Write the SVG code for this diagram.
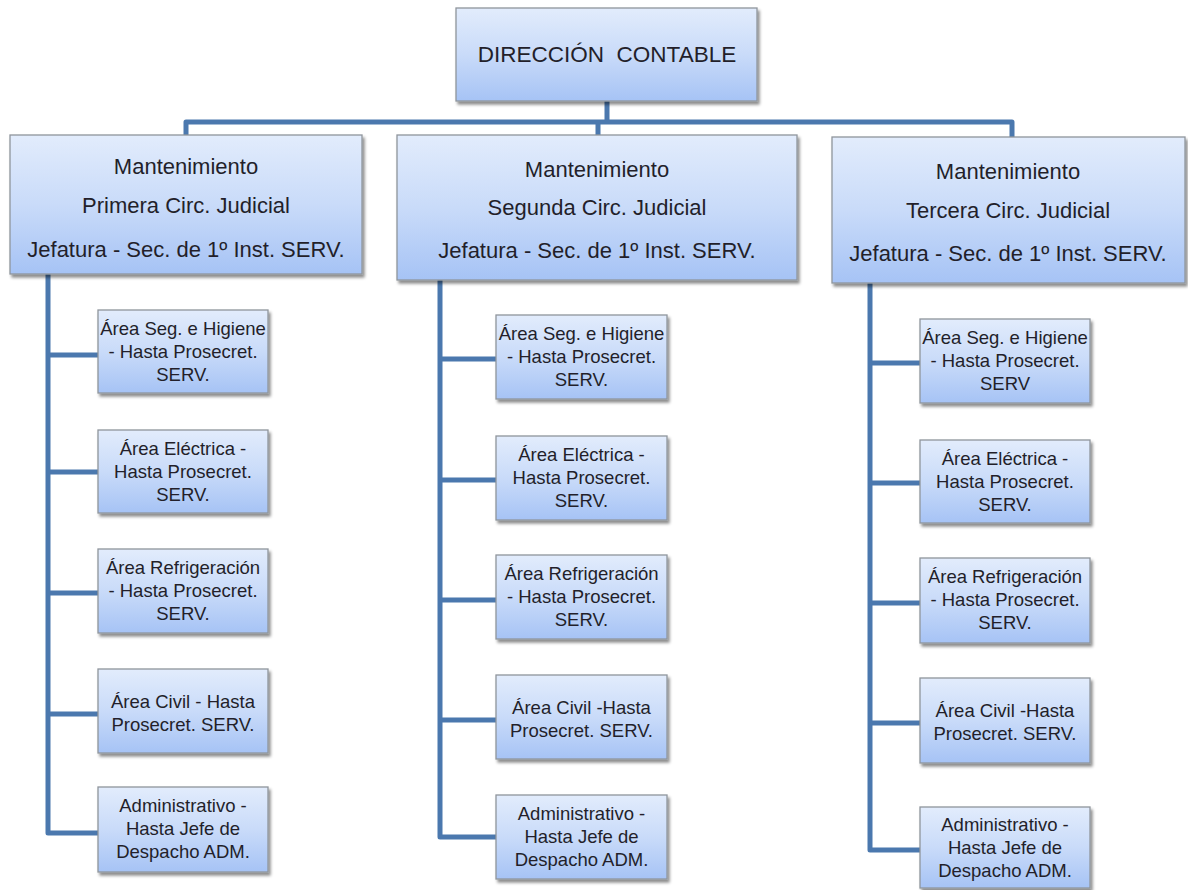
<svg xmlns="http://www.w3.org/2000/svg" width="1188" height="890" viewBox="0 0 1188 890">
<defs>
<linearGradient id="g" x1="0" y1="0" x2="0" y2="1">
<stop offset="0" stop-color="#e2ecfc"/>
<stop offset="0.5" stop-color="#c9dbf9"/>
<stop offset="1" stop-color="#a6c3f5"/>
</linearGradient>
<filter id="sh" x="-10%" y="-10%" width="125%" height="130%">
<feDropShadow dx="2" dy="3" stdDeviation="1.6" flood-color="#000" flood-opacity="0.45"/>
</filter>
<style>
.box{fill:url(#g);stroke:#8f959c;stroke-width:1.3;filter:url(#sh)}
.t{font-family:"Liberation Sans",Arial,sans-serif;fill:#231f2a;text-anchor:middle}
.top{font-size:22.5px}
.p{font-size:22px}
.c{font-size:18.5px}
.ln{fill:none;stroke:#4b78ae;stroke-width:5;stroke-linejoin:round;stroke-linecap:butt}
</style>
</defs>
<rect width="1188" height="890" fill="#fff"/>

<g id="connectors">
<path class="ln" d="M607 101 V122 M186 135 V122 H1012 V137 M598 122 V136"/>
<path class="ln" d="M48 274 V833 H98 M48 355 H98 M48 472 H98 M48 593 H98 M48 714 H98"/>
<path class="ln" d="M440 280 V837 H496 M440 359 H496 M440 480 H496 M440 600 H496 M440 720 H496"/>
<path class="ln" d="M870 283 V850 H920 M870 363 H920 M870 483 H920 M870 603 H920 M870 723 H920"/>
</g>

<g id="direccion">
<rect class="box" x="456" y="8" width="301" height="93"/>
<text class="t top" x="607" y="62">DIRECCIÓN&#160; CONTABLE</text>
</g>

<g id="mant1">
<rect class="box" x="10" y="135" width="352" height="139"/>
<text class="t p" x="186" y="174">Mantenimiento</text>
<text class="t p" x="186" y="213">Primera Circ. Judicial</text>
<text class="t p" x="186" y="257">Jefatura - Sec. de 1º Inst. SERV.</text>
</g>
<g id="mant2">
<rect class="box" x="397" y="135" width="400" height="145"/>
<text class="t p" x="597" y="177">Mantenimiento</text>
<text class="t p" x="597" y="215">Segunda Circ. Judicial</text>
<text class="t p" x="597" y="258">Jefatura - Sec. de 1º Inst. SERV.</text>
</g>
<g id="mant3">
<rect class="box" x="832" y="137" width="353" height="146"/>
<text class="t p" x="1008" y="179">Mantenimiento</text>
<text class="t p" x="1008" y="218">Tercera Circ. Judicial</text>
<text class="t p" x="1008" y="261">Jefatura - Sec. de 1º Inst. SERV.</text>
</g>

<g id="c1-1"><rect class="box" x="98" y="310" width="170" height="83"/>
<text class="t c" x="183" y="334.5">Área Seg. e Higiene</text><text class="t c" x="183" y="357.5">- Hasta Prosecret.</text><text class="t c" x="183" y="380.5">SERV.</text></g>
<g id="c1-2"><rect class="box" x="98" y="430" width="170" height="83"/>
<text class="t c" x="183" y="454.5">Área Eléctrica -</text><text class="t c" x="183" y="477.5">Hasta Prosecret.</text><text class="t c" x="183" y="500.5">SERV.</text></g>
<g id="c1-3"><rect class="box" x="98" y="549" width="170" height="84"/>
<text class="t c" x="183" y="573.5">Área Refrigeración</text><text class="t c" x="183" y="596.5">- Hasta Prosecret.</text><text class="t c" x="183" y="619.5">SERV.</text></g>
<g id="c1-4"><rect class="box" x="98" y="669" width="170" height="84"/>
<text class="t c" x="183" y="707.5">Área Civil - Hasta</text><text class="t c" x="183" y="730.5">Prosecret. SERV.</text></g>
<g id="c1-5"><rect class="box" x="98" y="787" width="170" height="85"/>
<text class="t c" x="183" y="812">Administrativo -</text><text class="t c" x="183" y="835">Hasta Jefe de</text><text class="t c" x="183" y="858">Despacho ADM.</text></g>

<g id="c2-1"><rect class="box" x="496" y="315" width="171" height="84"/>
<text class="t c" x="581.5" y="339.5">Área Seg. e Higiene</text><text class="t c" x="581.5" y="362.5">- Hasta Prosecret.</text><text class="t c" x="581.5" y="385.5">SERV.</text></g>
<g id="c2-2"><rect class="box" x="496" y="436" width="171" height="84"/>
<text class="t c" x="581.5" y="460.5">Área Eléctrica -</text><text class="t c" x="581.5" y="483.5">Hasta Prosecret.</text><text class="t c" x="581.5" y="506.5">SERV.</text></g>
<g id="c2-3"><rect class="box" x="496" y="555" width="171" height="84"/>
<text class="t c" x="581.5" y="579.5">Área Refrigeración</text><text class="t c" x="581.5" y="602.5">- Hasta Prosecret.</text><text class="t c" x="581.5" y="625.5">SERV.</text></g>
<g id="c2-4"><rect class="box" x="496" y="675" width="171" height="84"/>
<text class="t c" x="581.5" y="713.5">Área Civil -Hasta</text><text class="t c" x="581.5" y="736.5">Prosecret. SERV.</text></g>
<g id="c2-5"><rect class="box" x="496" y="795" width="171" height="84"/>
<text class="t c" x="581.5" y="819.5">Administrativo -</text><text class="t c" x="581.5" y="842.5">Hasta Jefe de</text><text class="t c" x="581.5" y="865.5">Despacho ADM.</text></g>

<g id="c3-1"><rect class="box" x="920" y="319" width="170" height="84"/>
<text class="t c" x="1005" y="343.5">Área Seg. e Higiene</text><text class="t c" x="1005" y="366.5">- Hasta Prosecret.</text><text class="t c" x="1005" y="389.5">SERV</text></g>
<g id="c3-2"><rect class="box" x="920" y="440" width="170" height="83"/>
<text class="t c" x="1005" y="464.5">Área Eléctrica -</text><text class="t c" x="1005" y="487.5">Hasta Prosecret.</text><text class="t c" x="1005" y="510.5">SERV.</text></g>
<g id="c3-3"><rect class="box" x="920" y="558" width="170" height="85"/>
<text class="t c" x="1005" y="582.5">Área Refrigeración</text><text class="t c" x="1005" y="605.5">- Hasta Prosecret.</text><text class="t c" x="1005" y="628.5">SERV.</text></g>
<g id="c3-4"><rect class="box" x="920" y="678" width="170" height="85"/>
<text class="t c" x="1005" y="716.5">Área Civil -Hasta</text><text class="t c" x="1005" y="739.5">Prosecret. SERV.</text></g>
<g id="c3-5"><rect class="box" x="920" y="807" width="170" height="81"/>
<text class="t c" x="1005" y="831">Administrativo -</text><text class="t c" x="1005" y="854">Hasta Jefe de</text><text class="t c" x="1005" y="877">Despacho ADM.</text></g>
</svg>
